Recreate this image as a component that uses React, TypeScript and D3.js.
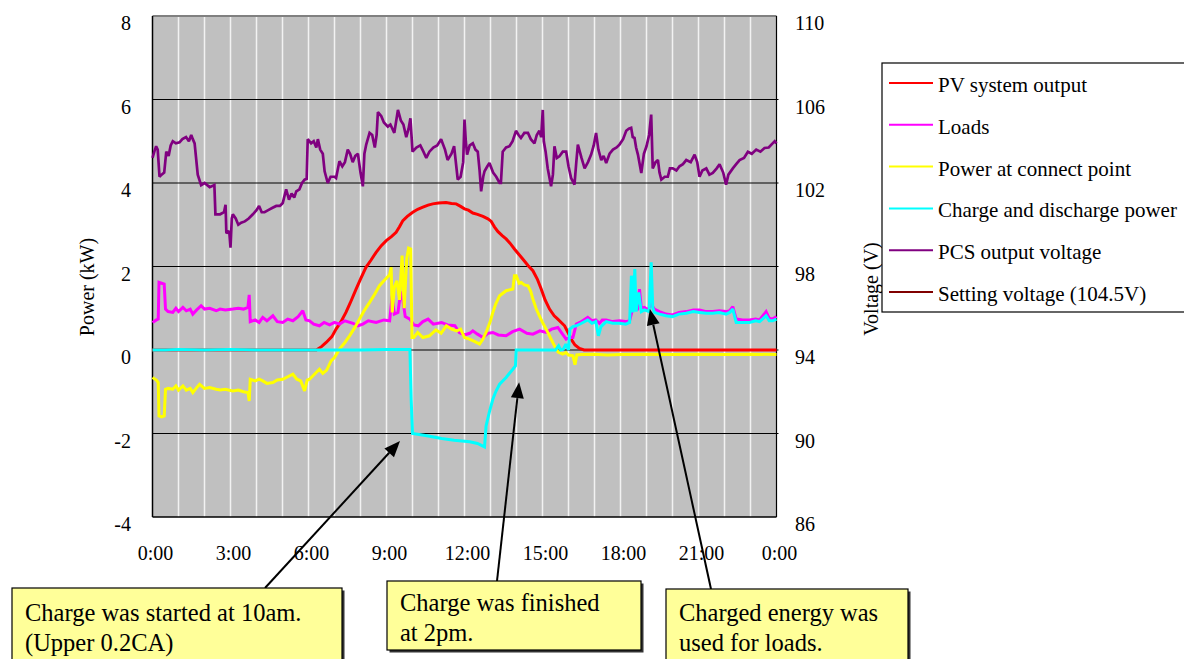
import React from "react";
import * as d3 from "d3";

type Pt = [number, number];

// hours (0-24) vs kW
const pvOutput: Pt[] = [[0,0],[5.8,0],[6.3,0],[6.5,0.08],[6.68,0.18],[6.9,0.32],[7.06,0.5],[7.25,0.68],[7.44,0.9],[7.6,1.12],[7.83,1.46],[8.0,1.7],[8.21,1.98],[8.4,2.15],[8.6,2.34],[8.8,2.5],[8.99,2.62],[9.2,2.72],[9.37,2.82],[9.5,2.95],[9.63,3.1],[9.8,3.2],[10.01,3.3],[10.2,3.37],[10.4,3.42],[10.6,3.47],[10.78,3.5],[11.0,3.52],[11.29,3.53],[11.5,3.51],[11.68,3.5],[11.85,3.44],[12.0,3.38],[12.15,3.35],[12.32,3.28],[12.5,3.25],[12.71,3.2],[12.9,3.14],[13.03,3.08],[13.15,2.95],[13.28,2.84],[13.45,2.74],[13.6,2.66],[13.75,2.56],[13.92,2.42],[14.08,2.3],[14.24,2.18],[14.45,2.02],[14.63,1.9],[14.8,1.7],[14.95,1.46],[15.1,1.2],[15.27,0.98],[15.45,0.82],[15.59,0.74],[15.72,0.66],[15.85,0.58],[15.98,0.42],[16.1,0.26],[16.25,0.12],[16.42,0.04],[16.6,0],[24,0]];

const loads: Pt[] = [[0,0.66],[0.15,0.72],[0.22,0.74],[0.25,1.62],[0.35,1.6],[0.45,1.58],[0.5,0.98],[0.6,0.92],[0.78,0.9],[0.9,1.0],[1.0,0.92],[1.17,1.02],[1.3,0.94],[1.45,0.98],[1.55,0.86],[1.7,0.96],[1.87,1.06],[2.0,0.98],[2.2,1.0],[2.45,0.94],[2.6,0.98],[2.8,0.96],[3.09,0.98],[3.3,1.0],[3.5,0.98],[3.67,1.02],[3.72,1.32],[3.76,0.68],[3.95,0.72],[4.1,0.66],[4.24,0.78],[4.4,0.7],[4.63,0.82],[4.8,0.68],[5.01,0.66],[5.2,0.74],[5.4,0.7],[5.6,0.8],[5.78,0.94],[5.9,0.72],[6.04,0.7],[6.2,0.62],[6.42,0.58],[6.6,0.66],[6.81,0.6],[7.0,0.66],[7.19,0.62],[7.4,0.7],[7.71,0.64],[7.9,0.58],[8.09,0.62],[8.3,0.7],[8.6,0.66],[8.9,0.72],[9.12,0.7],[9.22,1.3],[9.3,0.86],[9.44,0.9],[9.55,1.4],[9.63,1.2],[9.72,0.8],[9.9,0.74],[10.05,0.6],[10.22,0.58],[10.4,0.68],[10.6,0.74],[10.8,0.62],[11.12,0.66],[11.35,0.6],[11.63,0.58],[11.8,0.42],[12.0,0.36],[12.2,0.4],[12.32,0.46],[12.5,0.38],[12.71,0.3],[12.9,0.4],[13.09,0.42],[13.3,0.36],[13.6,0.34],[13.85,0.44],[14.12,0.5],[14.4,0.4],[14.63,0.38],[14.9,0.46],[15.14,0.42],[15.35,0.5],[15.59,0.54],[15.75,0.4],[15.91,0.26],[16.05,0.3],[16.17,0.3],[16.3,0.62],[16.5,0.68],[16.74,0.78],[16.9,0.7],[17.05,0.72],[17.19,0.64],[17.3,0.72],[17.45,0.72],[17.7,0.68],[17.96,0.7],[18.2,0.68],[18.35,0.7],[18.45,0.95],[18.55,1.2],[18.65,0.95],[18.73,1.46],[18.8,1.0],[18.92,1.02],[19.05,0.96],[19.18,1.1],[19.3,0.98],[19.5,0.92],[19.75,0.86],[20.0,0.84],[20.25,0.9],[20.53,0.92],[20.8,0.96],[21.04,0.96],[21.3,0.92],[21.55,0.92],[21.8,0.94],[22.06,0.92],[22.2,0.94],[22.32,1.04],[22.45,0.74],[22.7,0.72],[22.96,0.72],[23.2,0.74],[23.35,0.72],[23.6,0.92],[23.72,0.76],[23.85,0.74],[24,0.8]];

const connectPoint: Pt[] = [[0,-0.66],[0.15,-0.72],[0.22,-0.78],[0.25,-1.58],[0.35,-1.6],[0.45,-1.58],[0.5,-0.94],[0.6,-0.92],[0.78,-0.94],[0.9,-0.86],[1.0,-0.96],[1.17,-0.86],[1.3,-0.96],[1.45,-0.92],[1.55,-1.02],[1.7,-0.9],[1.81,-0.82],[2.0,-0.92],[2.2,-0.9],[2.45,-0.94],[2.6,-0.96],[2.8,-0.94],[3.09,-0.98],[3.3,-0.96],[3.5,-1.0],[3.67,-1.02],[3.72,-1.22],[3.76,-0.7],[3.95,-0.74],[4.1,-0.7],[4.24,-0.74],[4.4,-0.8],[4.63,-0.78],[4.8,-0.72],[5.01,-0.7],[5.2,-0.64],[5.4,-0.58],[5.55,-0.7],[5.7,-0.74],[5.85,-0.98],[5.95,-0.72],[6.04,-0.7],[6.2,-0.6],[6.42,-0.46],[6.55,-0.56],[6.7,-0.48],[6.87,-0.26],[7.0,-0.18],[7.19,0.02],[7.4,0.18],[7.58,0.34],[7.8,0.56],[7.96,0.74],[8.15,0.95],[8.35,1.14],[8.55,1.34],[8.73,1.54],[8.9,1.66],[9.12,1.8],[9.18,1.98],[9.22,0.9],[9.3,1.5],[9.4,1.66],[9.5,1.2],[9.6,2.26],[9.68,1.0],[9.78,2.2],[9.85,2.44],[9.93,2.42],[9.98,0.3],[10.05,0.3],[10.2,0.42],[10.4,0.3],[10.65,0.34],[10.9,0.48],[11.1,0.4],[11.3,0.58],[11.5,0.5],[11.7,0.46],[11.85,0.5],[12.0,0.3],[12.19,0.26],[12.4,0.2],[12.58,0.14],[12.7,0.25],[12.83,0.42],[13.0,0.7],[13.09,0.9],[13.2,1.1],[13.35,1.3],[13.6,1.42],[13.86,1.46],[13.92,1.78],[13.99,1.78],[14.1,1.6],[14.18,1.62],[14.3,1.56],[14.44,1.54],[14.55,1.4],[14.63,1.22],[14.75,1.0],[14.88,0.82],[15.0,0.66],[15.14,0.5],[15.3,0.3],[15.46,0.1],[15.6,-0.05],[15.78,-0.1],[15.9,-0.06],[16.0,-0.12],[16.17,-0.14],[16.25,-0.35],[16.32,-0.12],[16.5,-0.11],[17,-0.1],[17.5,-0.12],[18,-0.11],[19,-0.1],[20,-0.11],[21,-0.1],[22,-0.11],[23,-0.1],[24,-0.11]];

const chargeDischarge: Pt[] = [[0,0],[0.5,0],[1,0.01],[2,0],[3,0.01],[4,0],[5,0],[6,0],[7,0],[8,0],[9,0.01],[9.9,0.01],[9.95,-1.2],[10.0,-2.0],[10.5,-2.05],[11.12,-2.12],[11.6,-2.16],[12.2,-2.2],[12.5,-2.24],[12.77,-2.32],[12.83,-1.82],[12.95,-1.5],[13.09,-1.18],[13.2,-1.0],[13.35,-0.82],[13.6,-0.66],[13.86,-0.46],[13.96,-0.38],[13.99,0],[14.5,0],[15.0,0],[15.5,0],[15.62,0.1],[15.7,0],[15.8,0.02],[15.9,0.14],[16.0,0],[16.05,0.5],[16.17,0.56],[16.3,0.58],[16.5,0.64],[16.74,0.72],[16.9,0.64],[17.05,0.68],[17.15,0.34],[17.25,0.56],[17.45,0.68],[17.7,0.64],[17.96,0.64],[18.2,0.62],[18.35,0.66],[18.42,1.78],[18.48,0.9],[18.55,1.94],[18.6,0.92],[18.7,1.38],[18.8,0.92],[18.92,0.96],[19.1,0.92],[19.18,2.1],[19.24,1.02],[19.3,0.9],[19.5,0.86],[19.75,0.82],[20.0,0.8],[20.25,0.86],[20.53,0.88],[20.8,0.92],[21.04,0.9],[21.3,0.88],[21.55,0.88],[21.8,0.9],[22.06,0.86],[22.2,0.9],[22.32,0.98],[22.45,0.66],[22.7,0.66],[22.96,0.66],[23.2,0.7],[23.35,0.68],[23.6,0.82],[23.72,0.7],[23.85,0.7],[24,0.74]];

// hours vs volts
const pcsVoltage: Pt[] = [[0,103.2],[0.07,103.5],[0.14,103.76],[0.2,103.6],[0.27,102.3],[0.35,102.4],[0.45,102.5],[0.53,103.5],[0.62,103.3],[0.7,103.8],[0.78,104.0],[0.9,103.9],[1.04,103.95],[1.15,104.1],[1.29,104.2],[1.4,104.0],[1.49,104.3],[1.55,104.1],[1.62,103.9],[1.74,102.4],[1.87,101.9],[2.0,102.0],[2.2,101.8],[2.38,101.9],[2.42,100.5],[2.6,100.5],[2.75,100.6],[2.81,100.96],[2.84,99.6],[2.95,99.7],[3.0,98.9],[3.05,100.3],[3.09,100.5],[3.2,100.3],[3.3,100.0],[3.41,100.1],[3.55,100.16],[3.7,100.3],[3.86,100.5],[4.0,100.7],[4.1,100.9],[4.2,100.6],[4.31,100.6],[4.45,100.7],[4.6,100.8],[4.76,100.9],[4.9,100.9],[5.01,101.04],[5.14,101.7],[5.25,101.2],[5.35,101.5],[5.45,101.3],[5.53,101.6],[5.65,101.7],[5.75,102.0],[5.85,102.16],[5.93,102.2],[5.97,104.1],[6.1,103.9],[6.2,104.0],[6.3,103.7],[6.36,104.1],[6.45,103.6],[6.55,103.4],[6.62,102.56],[6.74,102.0],[6.85,102.3],[7.0,102.3],[7.06,102.24],[7.19,103.04],[7.3,102.8],[7.4,103.0],[7.51,103.6],[7.6,103.4],[7.7,103.0],[7.8,103.3],[7.9,103.4],[8.0,102.5],[8.09,101.84],[8.15,103.4],[8.22,103.84],[8.35,104.4],[8.45,104.3],[8.55,103.7],[8.62,104.3],[8.67,105.4],[8.8,105.2],[8.9,104.9],[9.05,104.7],[9.15,104.8],[9.3,104.4],[9.44,105.5],[9.55,105.0],[9.65,104.8],[9.76,104.2],[9.85,104.6],[9.92,105.1],[10.0,103.5],[10.15,103.7],[10.3,103.8],[10.42,103.5],[10.53,103.2],[10.65,103.5],[10.8,103.7],[10.95,103.8],[11.1,104.1],[11.25,103.6],[11.35,103.1],[11.5,103.4],[11.6,103.76],[11.74,102.16],[11.85,102.3],[11.95,103.0],[12.0,105.04],[12.05,104.0],[12.1,103.36],[12.2,103.8],[12.32,103.9],[12.42,103.6],[12.51,103.5],[12.58,102.6],[12.64,101.6],[12.72,102.3],[12.77,102.56],[12.88,102.8],[12.96,102.96],[13.1,102.5],[13.22,102.3],[13.35,102.0],[13.4,102.0],[13.47,103.5],[13.6,103.7],[13.73,103.76],[13.85,104.0],[13.98,104.5],[14.08,104.3],[14.17,104.16],[14.3,104.4],[14.44,104.4],[14.55,104.1],[14.69,103.9],[14.78,104.3],[14.88,104.5],[14.95,104.2],[15.01,105.5],[15.05,104.0],[15.12,103.5],[15.2,102.7],[15.33,101.84],[15.4,102.4],[15.46,103.76],[15.55,103.2],[15.65,103.28],[15.78,103.5],[15.91,103.5],[16.0,102.8],[16.1,102.24],[16.23,101.92],[16.3,103.0],[16.36,103.84],[16.5,103.2],[16.62,102.7],[16.75,103.0],[16.87,103.36],[16.97,103.8],[17.06,104.4],[17.15,103.6],[17.26,103.1],[17.35,103.3],[17.45,102.96],[17.58,103.4],[17.71,103.6],[17.85,103.7],[17.96,103.84],[18.1,104.1],[18.22,104.5],[18.32,104.6],[18.41,104.64],[18.47,104.2],[18.54,104.16],[18.6,103.7],[18.67,103.36],[18.8,102.48],[18.9,103.4],[19.0,103.76],[19.1,104.3],[19.18,105.28],[19.21,104.0],[19.24,102.7],[19.35,103.0],[19.44,103.1],[19.5,102.5],[19.57,102.16],[19.7,102.3],[19.82,102.3],[19.9,102.7],[20.01,102.7],[20.15,102.6],[20.27,102.8],[20.4,102.9],[20.53,103.1],[20.7,103.0],[20.85,103.36],[20.95,103.0],[21.04,102.3],[21.15,102.6],[21.3,102.7],[21.42,102.4],[21.55,102.48],[21.7,102.7],[21.81,102.9],[21.95,102.5],[22.06,101.92],[22.15,102.4],[22.32,102.7],[22.45,102.9],[22.58,103.1],[22.75,103.2],[22.9,103.5],[23.05,103.4],[23.22,103.6],[23.38,103.5],[23.54,103.68],[23.7,103.7],[23.85,103.9],[23.93,104.0],[24,103.9]];

const powerTicks = [-4, -2, 0, 2, 4, 6, 8];
const voltTicks = [86, 90, 94, 98, 102, 106, 110];
const hourTicks = [0, 3, 6, 9, 12, 15, 18, 21, 24];
const hourTickLabels = ["0:00", "3:00", "6:00", "9:00", "12:00", "15:00", "18:00", "21:00", "0:00"];
const legendLabels = ["PV system output", "Loads", "Power at connect point", "Charge and discharge power", "PCS output voltage", "Setting voltage (104.5V)"];
const legendColors = ["#ff0000", "#ff00ff", "#ffff00", "#00ffff", "#800080", "#800000"];

const callouts = [
  { lines: ["Charge was started at 10am.", "(Upper 0.2CA)"], tipHour: 9.52, tipKW: -2.18 },
  { lines: ["Charge was finished", "at 2pm."], tipHour: 14.1, tipKW: -0.77 },
  { lines: ["Charged energy was", "used for loads."], tipHour: 19.13, tipKW: 0.98 },
];

const FONT = "'Liberation Serif', 'Times New Roman', serif";

export default function App() {
  const L = 152.5, R = 776.5, T = 16, B = 517;
  const x = d3.scaleLinear().domain([0, 24]).range([L, R]);
  const y = d3.scaleLinear().domain([-4, 8]).range([B, T]);
  const yV = d3.scaleLinear().domain([86, 110]).range([B, T]);

  const lineKW = d3.line<Pt>().x((d) => x(d[0])).y((d) => y(d[1]));
  const lineV = d3.line<Pt>().x((d) => x(d[0])).y((d) => yV(d[1]));

  const hours = d3.range(0, 25);

  const boxes = [
    { x0: 12, y0: 588, w: 330, h: 90, tx: 25, ty: 612, sx: 265, sy: 588 },
    { x0: 387, y0: 581, w: 254, h: 69, tx: 400, ty: 602, sx: 497, sy: 581 },
    { x0: 666, y0: 589, w: 242, h: 90, tx: 679, ty: 612, sx: 711, sy: 589 },
  ];

  const arrowHead = (sx: number, sy: number, tx: number, ty: number) => {
    const ang = Math.atan2(ty - sy, tx - sx);
    const len = 16, half = 6.5;
    const bx = tx - len * Math.cos(ang), by = ty - len * Math.sin(ang);
    const px = -Math.sin(ang) * half, py = Math.cos(ang) * half;
    return { pts: `${tx},${ty} ${bx + px},${by + py} ${bx - px},${by - py}`, bx, by };
  };

  return (
    <svg width={1184} height={659} style={{ position: "absolute", left: 0, top: 0, background: "#fff" }} fontFamily={FONT}>
      <rect x={L} y={T} width={R - L} height={B - T} fill="#c0c0c0" />
      {hours.slice(1, 24).map((h) => (
        <line key={"v" + h} x1={x(h)} x2={x(h)} y1={T} y2={B} stroke="#f2f2f2" strokeWidth={1.5} />
      ))}
      {powerTicks.slice(1, 6).map((t) => (
        <line key={"h" + t} x1={L} x2={R + 2} y1={y(t)} y2={y(t)} stroke="#000" strokeWidth={1.2} />
      ))}
      <line x1={L} x2={R} y1={T} y2={T} stroke="#808080" strokeWidth={2} />
      <line x1={L} x2={R} y1={B} y2={B} stroke="#000" strokeWidth={1.5} />
      <line x1={L} x2={L} y1={T} y2={B} stroke="#000" strokeWidth={1.5} />
      <line x1={R} x2={R} y1={T} y2={B} stroke="#000" strokeWidth={1.2} />

      <g fill="none" strokeWidth={3} strokeLinejoin="miter" strokeMiterlimit={2}>
        <path d={lineKW(pvOutput) || ""} stroke="#ff0000" />
        <path d={lineKW(loads) || ""} stroke="#ff00ff" />
        <path d={lineKW(connectPoint) || ""} stroke="#ffff00" />
        <path d={lineKW(chargeDischarge) || ""} stroke="#00ffff" />
        <path d={lineV(pcsVoltage) || ""} stroke="#800080" strokeWidth={2.7} />
      </g>

      <g fontSize={20} fill="#000">
        {powerTicks.map((t) => (
          <text key={"pl" + t} x={131} y={y(t) + 7} textAnchor="end" dominantBaseline="central">{t}</text>
        ))}
        {voltTicks.map((t) => (
          <text key={"vl" + t} x={795} y={yV(t) + 7} textAnchor="start" dominantBaseline="central">{t}</text>
        ))}
        {hourTicks.map((t, i) => (
          <text key={"xl" + i} x={x(t) + 3} y={553} textAnchor="middle" dominantBaseline="central">{hourTickLabels[i]}</text>
        ))}
        <text transform="translate(87,287) rotate(-90)" textAnchor="middle" dominantBaseline="central">Power (kW)</text>
        <text transform="translate(871,289) rotate(-90)" textAnchor="middle" dominantBaseline="central">Voltage (V)</text>
      </g>

      <rect x={882} y={63} width={320} height={249} fill="#fff" stroke="#000" strokeWidth={1.2} />
      {legendLabels.map((lab, i) => {
        const cy = 85 + i * 41.8;
        return (
          <g key={lab}>
            <line x1={889} x2={933} y1={cy - 2} y2={cy - 2} stroke={legendColors[i]} strokeWidth={2} />
            <text x={938} y={cy} fontSize={21} dominantBaseline="central">{lab}</text>
          </g>
        );
      })}

      {callouts.map((c, i) => {
        const b = boxes[i];
        const tx = x(c.tipHour), ty = y(c.tipKW);
        const ah = arrowHead(b.sx, b.sy, tx, ty);
        return (
          <g key={"c" + i}>
            <line x1={b.sx} y1={b.sy} x2={ah.bx} y2={ah.by} stroke="#000" strokeWidth={2} />
            <polygon points={ah.pts} fill="#000" />
            <rect x={b.x0 + 2.5} y={b.y0 + 2.5} width={b.w} height={b.h} fill="#333" />
            <rect x={b.x0} y={b.y0} width={b.w} height={b.h} fill="#ffff99" stroke="#000" strokeWidth={1.2} />
            {c.lines.map((ln, j) => (
              <text key={j} x={b.tx} y={b.ty + j * 30} fontSize={24.5} dominantBaseline="central">{ln}</text>
            ))}
          </g>
        );
      })}
    </svg>
  );
}
